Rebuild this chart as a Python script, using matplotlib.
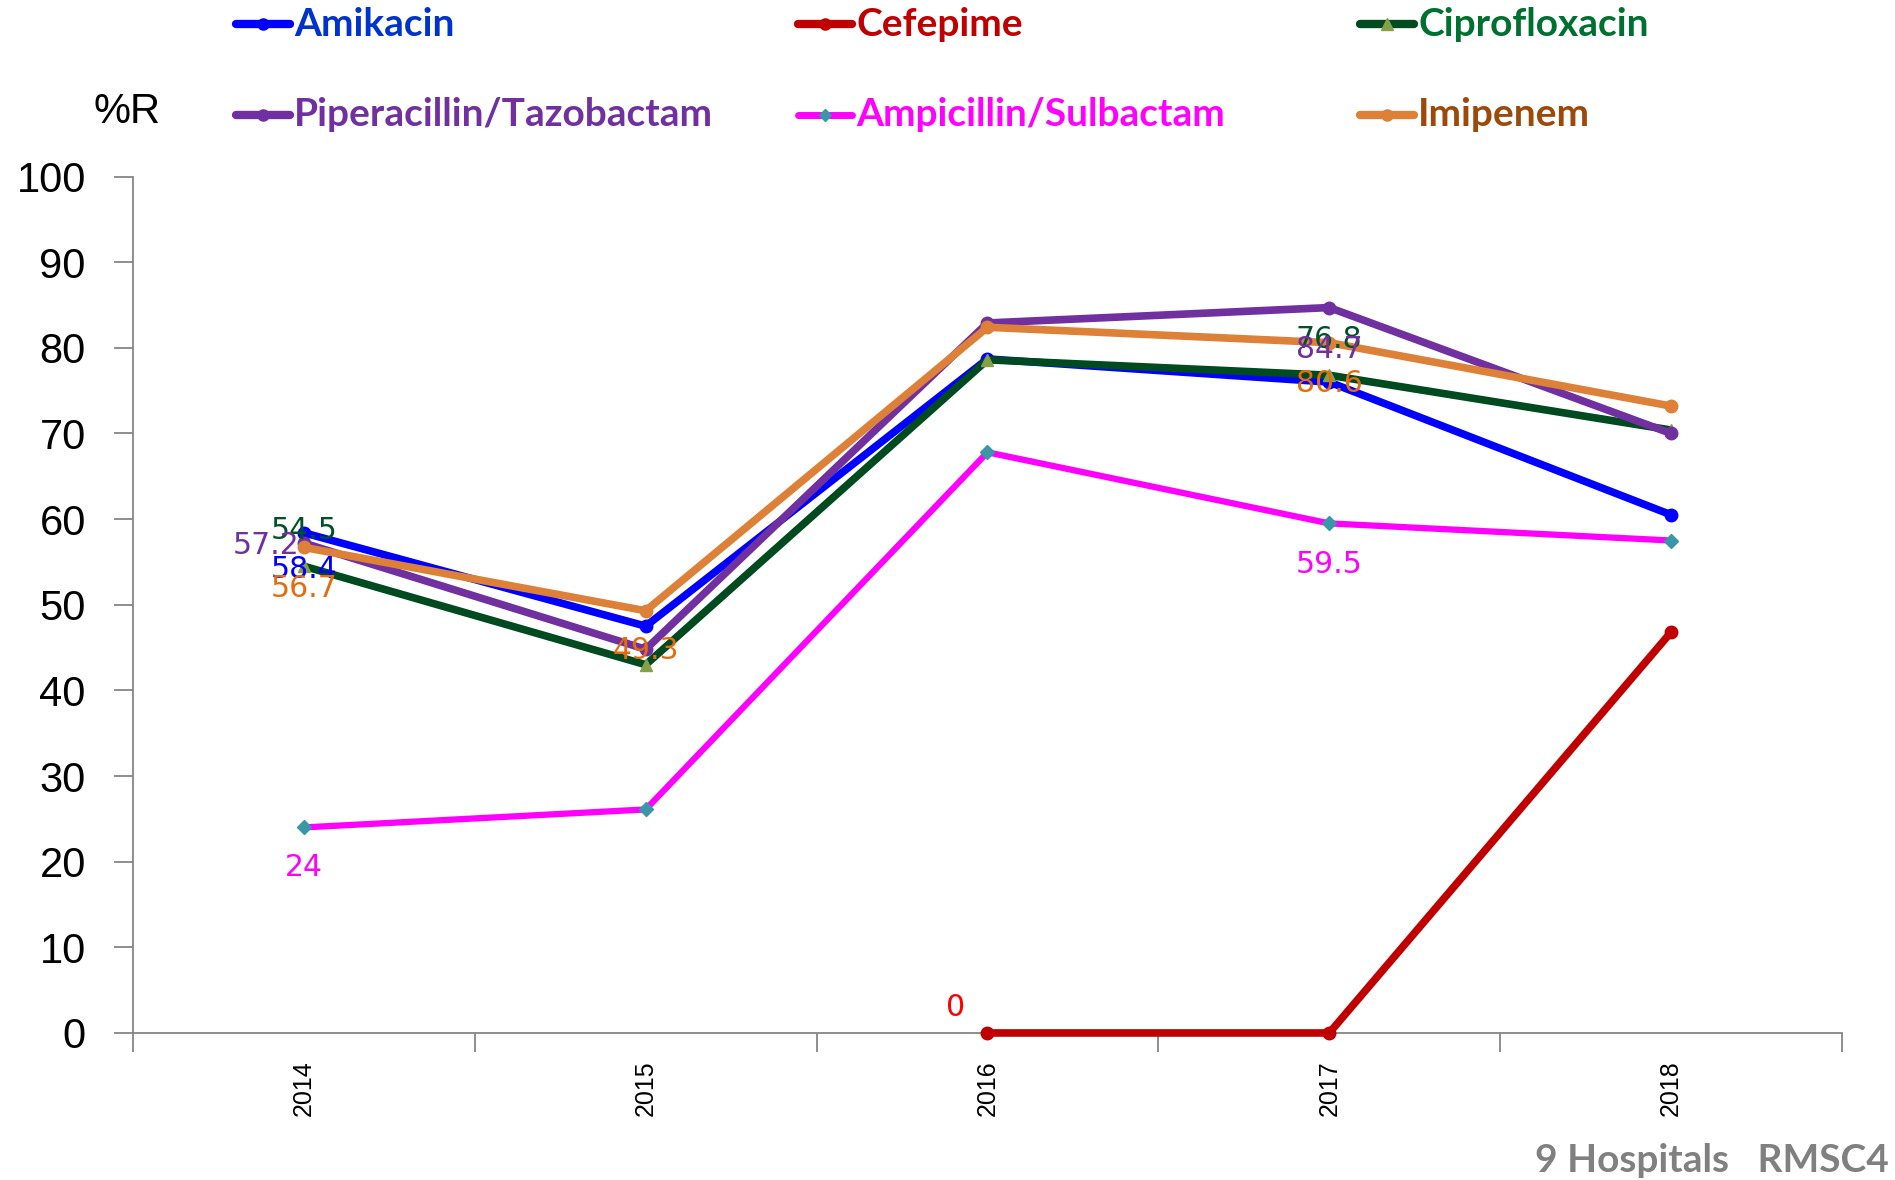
import numpy as np
import matplotlib
matplotlib.use("Agg")
import matplotlib.pyplot as plt
from matplotlib.lines import Line2D

# data
years = ["2014", "2015", "2016", "2017", "2018"]
amikacin = [58.4, 47.5, 78.7, 76.0, 60.5]
cefepime = [np.nan, np.nan, 0.0, 0.0, 46.8]
ciprofloxacin = [54.5, 43.0, 78.6, 76.8, 70.4]
pip_tazo = [57.2, 44.8, 82.9, 84.7, 70.0]
amp_sulb = [24.0, 26.1, 67.8, 59.5, 57.5]
imipenem = [56.7, 49.3, 82.4, 80.6, 73.2]

names = ["Amikacin", "Cefepime", "Ciprofloxacin",
         "Piperacillin/Tazobactam", "Ampicillin/Sulbactam", "Imipenem"]
values = [amikacin, cefepime, ciprofloxacin, pip_tazo, amp_sulb, imipenem]

# style per series: line colour, marker, marker colour, line width, legend text colour, label colour
styles = [
    ("#0000FF", "o", "#0000FF", 5.5, "#0033CC", "#0000FF"),
    ("#C00000", "o", "#C00000", 5.5, "#C00000", "#FF0000"),
    ("#004A20", "^", "#86A04A", 5.5, "#007030", "#00502A"),
    ("#7030A0", "o", "#7030A0", 5.5, "#7030A0", "#7030A0"),
    ("#FF00FF", "D", "#3A97A8", 4.5, "#FF00FF", "#FF00FF"),
    ("#DD8038", "o", "#DD8038", 5.5, "#9C4A0B", "#E46C0A"),
]

# which points carry a value label: (series index, year index, ha, dx px, dy px)
point_labels = [
    (0, 0, "center", 0, -37),
    (2, 0, "center", 0, 36),
    (3, 0, "right", -4, -2),
    (5, 0, "center", 0, -41),
    (5, 1, "center", 0, -40),
    (2, 3, "center", 0, 36),
    (3, 3, "center", 0, -42),
    (5, 3, "center", 0, -41),
    (4, 0, "center", 0, -40),
    (4, 3, "center", 0, -41),
    (1, 2, "right", -22, 25),
]

fig = plt.figure(figsize=(18.95, 11.8), dpi=100)
ax = fig.add_axes([0.0702, 0.1246, 0.972 - 0.0702, 0.8504 - 0.1246])

x = np.arange(len(years))
for name, vals, st in zip(names, values, styles):
    lc, mk, mc, lw, _, _ = st
    ax.plot(x, vals, color=lc, lw=lw, marker=mk, ms=9 if mk != "D" else 7,
            markerfacecolor=mc, markeredgecolor=mc, solid_capstyle="round",
            solid_joinstyle="round", zorder=3, clip_on=False)

for si, yi, ha, dx, dy in point_labels:
    v = values[si][yi]
    txt = "%g" % v
    ax.annotate(txt, (x[yi], v), xytext=(dx, dy), textcoords="offset pixels",
                ha=ha, va="center", fontsize=21.5, color=styles[si][5],
                family="DejaVu Sans", zorder=5)

ax.set_xlim(-0.5, len(years) - 0.5)
ax.set_ylim(0, 100)
ax.set_yticks(np.arange(0, 101, 10))
ax.set_xticks(x)
ax.set_xticklabels(years, rotation=90, fontsize=18, family="Liberation Sans")
ax.set_xticks(np.arange(-0.5, len(years), 1), minor=True)
ax.tick_params(axis="x", which="major", length=0, pad=20)
ax.tick_params(axis="x", which="minor", length=14, color="#868686", width=1.3)
ax.tick_params(axis="y", length=14, color="#868686", width=1.3, pad=20,
               labelsize=30)
for lab in ax.get_yticklabels():
    lab.set_family("Liberation Sans")

for s in ["top", "right"]:
    ax.spines[s].set_visible(False)
for s in ["left", "bottom"]:
    ax.spines[s].set_color("#868686")
    ax.spines[s].set_linewidth(1.3)

# legend laid out in two rows of three, placed like the original
col_x = [236, 798, 1360]
row_y = [24, 115]
W, H = 1895, 1180
for i, (name, st) in enumerate(zip(names, styles)):
    lc, mk, mc, lw, tc, _ = st
    cx = col_x[i % 3]
    cy = row_y[i // 3]
    yf = 1 - cy / H
    fig.add_artist(Line2D([cx / W, (cx + 54) / W], [yf, yf], color=lc, lw=lw + 0.5,
                          solid_capstyle="round", transform=fig.transFigure))
    fig.add_artist(Line2D([(cx + 27) / W], [yf], marker=mk, ms=8 if mk != "D" else 6,
                          color=mc, transform=fig.transFigure))
    fig.text((cx + 58) / W, yf, name, color=tc, fontsize=28, fontweight="bold",
             family="Lato", ha="left", va="center")

fig.text(127 / W, 1 - 112 / H, "%R", fontsize=30, family="Liberation Sans",
         ha="center", va="center")
fig.text(1889 / W, 1 - 1160 / H, "9 Hospitals   RMSC4", fontsize=28,
         fontweight="bold", family="Lato", color="#808080", ha="right", va="center")

fig.savefig("out.png", dpi=100)
